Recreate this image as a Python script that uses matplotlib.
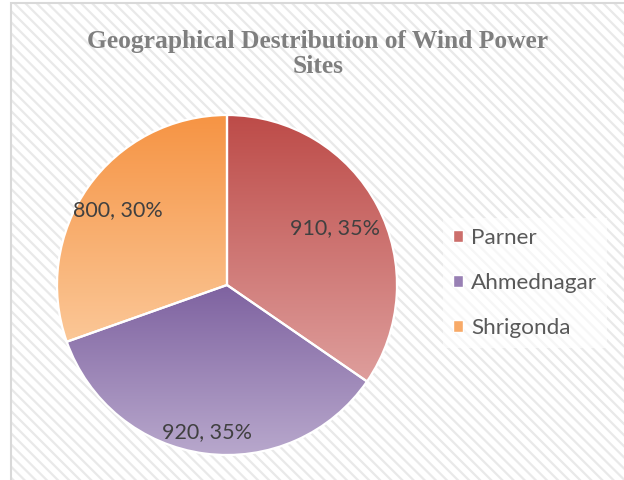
import numpy as np
import matplotlib
matplotlib.use('Agg')
import matplotlib.pyplot as plt
from matplotlib.patches import Rectangle, Patch
from matplotlib.colors import LinearSegmentedColormap

# data
sites = ['Parner', 'Ahmednagar', 'Shrigonda']
counts = [910, 920, 800]
pct_labels = ['35%', '35%', '30%']
title = 'Geographical Destribution of Wind Power\nSites'

# gradient colours per slice (top -> bottom)
top_colors = ['#BD4B48', '#7E62A0', '#F69444']
bot_colors = ['#DE9E9C', '#B9A9CD', '#FBC797']
legend_colors = ['#CC6E6B', '#9880B4', '#F8AA68']

plt.rcParams['hatch.linewidth'] = 1.6
plt.rcParams['hatch.color'] = '#E9E9E9'

W, H = 624, 480
fig = plt.figure(figsize=[W/100, H/100], dpi=100)
fig.patch.set_facecolor('white')

# hatched chart area
bg = Rectangle((11/W, 0), 1.0, (H-3)/H, transform=fig.transFigure,
               facecolor='white', edgecolor='#E9E9E9', hatch='\\\\\\',
               linewidth=0, zorder=-5)
fig.patches.append(bg)
border = Rectangle((11/W, -0.01), 1.0, (H-3)/H + 0.01, transform=fig.transFigure,
                   facecolor='none', edgecolor='#D9D9D9', linewidth=1.5, zorder=-4)
fig.patches.append(border)

# pie axes, centre (227, 285) px, radius 170 px
cx, cy, r = 227, 285, 170
ax = fig.add_axes([(cx-r)/W, (H-cy-r)/H, 2*r/W, 2*r/H])
ax.patch.set_alpha(0)

wedges, _ = ax.pie(counts, startangle=90, counterclock=False, radius=1,
                   colors=['none']*3,
                   wedgeprops=dict(edgecolor='white', linewidth=1.6))

for w, c0, c1 in zip(wedges, top_colors, bot_colors):
    verts = w.get_path().vertices
    x0, x1 = verts[:, 0].min(), verts[:, 0].max()
    y0, y1 = verts[:, 1].min(), verts[:, 1].max()
    cmap = LinearSegmentedColormap.from_list('g', [c1, c0])
    grad = np.linspace(0, 1, 256).reshape(-1, 1)
    im = ax.imshow(grad, cmap=cmap, extent=[x0, x1, y0, y1], origin='lower',
                   aspect='auto', zorder=1, interpolation='bilinear')
    im.set_clip_path(w)
    w.set_zorder(2)

ax.set_xlim(-1, 1)
ax.set_ylim(-1, 1)
ax.set_aspect('auto')
ax.axis('off')

# data labels
lab_font = dict(family=['Lato', 'DejaVu Sans'], size=15.5, color='#404040')
lab_pos = [(335, 228), (207, 432), (118, 210)]
for (px, py), n, p in zip(lab_pos, counts, pct_labels):
    fig.text(px/W, 1 - py/H, '%d, %s' % (n, p), ha='center', va='center', **lab_font)

# title
fig.text(318/W, 1 - 54/H, title, ha='center', va='center', linespacing=1.1,
         family=['Liberation Serif', 'DejaVu Serif'], weight='bold', size=18.4,
         color='#7F7F7F')

# legend
handles = [Patch(facecolor=c, edgecolor='white', linewidth=1.0) for c in legend_colors]
leg = fig.legend(handles, sites, loc='center left',
                 bbox_to_anchor=(443/W, 1 - 283/H), frameon=True,
                 prop=dict(family=['Lato', 'DejaVu Sans'], size=16.2),
                 labelcolor='#595959', handlelength=0.45, handleheight=0.45,
                 handletextpad=0.35, labelspacing=1.12, borderpad=0.45,
                 borderaxespad=0)
leg.get_frame().set_facecolor('white')
leg.get_frame().set_alpha(0.6)
leg.get_frame().set_edgecolor('none')
leg.get_frame().set_boxstyle('square', pad=0)

fig.savefig('out.png', dpi=100)
